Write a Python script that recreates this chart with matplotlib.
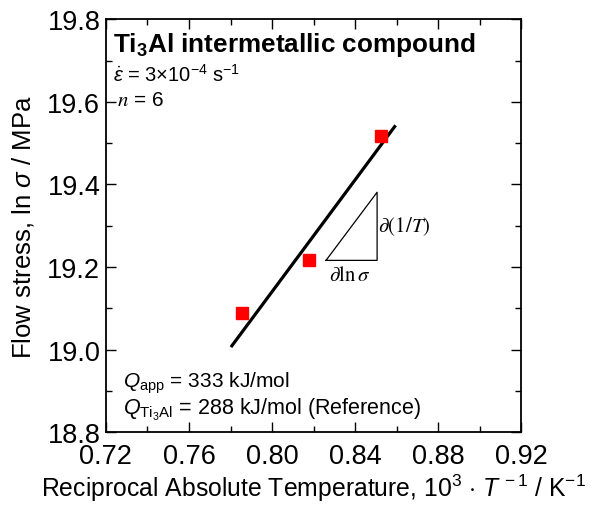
import matplotlib
matplotlib.use("Agg")
import matplotlib.pyplot as plt
from matplotlib.ticker import MultipleLocator

plt.rcParams['font.family'] = ['Liberation Sans', 'DejaVu Sans']
plt.rcParams['mathtext.fontset'] = 'custom'
plt.rcParams['mathtext.rm'] = 'Liberation Sans'
plt.rcParams['mathtext.it'] = 'Liberation Sans:italic'
plt.rcParams['mathtext.bf'] = 'Liberation Sans:bold'

# data
inv_T = [0.7855, 0.8178, 0.8525]
ln_sigma = [19.088, 19.216, 19.517]
fit_x = [0.7802, 0.8595]
fit_y = [19.006, 19.543]
tri_x = [0.826, 0.8506, 0.8506, 0.826]
tri_y = [19.216, 19.216, 19.381, 19.216]
xticks = [0.72, 0.76, 0.80, 0.84, 0.88, 0.92]
yticks = [18.8, 19.0, 19.2, 19.4, 19.6, 19.8]

fig = plt.figure(figsize=(5.95, 5.06), dpi=100)
ax = fig.add_axes([0.178, 0.144, 0.698, 0.816])

ax.plot(fit_x, fit_y, color='black', lw=2.3, solid_capstyle='butt', zorder=2)
ax.plot(inv_T, ln_sigma, 's', color='#ff0000', ms=8.5, mec='#ff0000', zorder=3)
ax.plot(tri_x, tri_y, color='black', lw=0.9, zorder=2)

ax.set_xlim(0.72, 0.92)
ax.set_ylim(18.8, 19.8)
ax.set_xticks(xticks)
ax.set_yticks(yticks)
ax.set_xticklabels([f'{v:.2f}' for v in xticks])
ax.set_yticklabels([f'{v:.1f}' for v in yticks])
ax.xaxis.set_minor_locator(MultipleLocator(0.02))
ax.yaxis.set_minor_locator(MultipleLocator(0.1))
ax.tick_params(which='both', direction='in', top=True, right=True, labelsize=19.5, width=1.0)
ax.tick_params(axis='x', which='both', pad=8)
ax.tick_params(axis='y', which='both', pad=4)
ax.tick_params(which='major', length=7)
ax.tick_params(which='minor', length=4)
for s in ax.spines.values():
    s.set_linewidth(1.3)

ax.set_xlabel(r'Reciprocal Absolute Temperature, 10$^3$ $\cdot$ $T^{\,-1}$ / K$^{-1}$', fontsize=17.8, labelpad=2)
ax.set_ylabel(r'Flow stress, ln $\sigma$ / MPa', fontsize=18.5, labelpad=8)

ax.text(0.017, 0.975, r'Ti$_{\mathbf{3}}$Al intermetallic compound', transform=ax.transAxes,
        fontsize=18.8, fontweight='bold', va='top', ha='left')
ax.text(0.017, 0.867, r'$\dot{\varepsilon}$ = 3×10$^{-4}$ s$^{-1}$', transform=ax.transAxes,
        fontsize=14.5, va='center', ha='left')
ax.text(0.027, 0.806, r'$n$ = 6', transform=ax.transAxes, fontsize=15, va='center',
        ha='left', math_fontfamily='stix')
ax.text(0.041, 0.121, r'$Q_{\mathrm{app}}$ = 333 kJ/mol', transform=ax.transAxes,
        fontsize=15, va='center', ha='left')
ax.text(0.041, 0.056, r'$Q_{\mathrm{Ti_3Al}}$ = 288 kJ/mol (Reference)', transform=ax.transAxes,
        fontsize=15.5, va='center', ha='left')

ax.text(0.8512, 19.30, r'$\partial(1/T)$', fontsize=15, va='center', ha='left', math_fontfamily='stix')
ax.text(0.8375, 19.205, r'$\partial\ln\sigma$', fontsize=15, va='top', ha='center', math_fontfamily='stix')

fig.savefig('out.png', dpi=100)
